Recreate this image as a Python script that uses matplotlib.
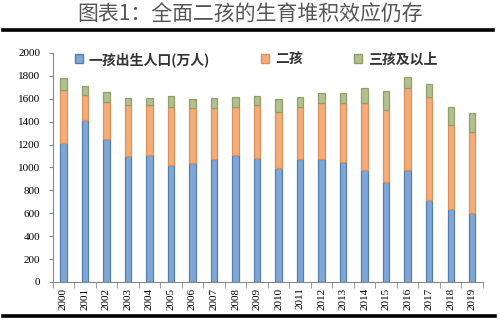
import matplotlib
matplotlib.use("Agg")
import matplotlib.pyplot as plt
from matplotlib.lines import Line2D
from matplotlib.patches import Patch

# data (births, 10k people)
years = [str(y) for y in range(2000, 2020)]
first_child = [1211, 1412, 1249, 1103, 1109, 1022, 1042, 1071, 1109, 1086,
               998, 1071, 1071, 1051, 978, 876, 978, 716, 635, 600]
second_top = [1677, 1633, 1575, 1546, 1546, 1531, 1517, 1517, 1531, 1546,
              1488, 1531, 1560, 1560, 1560, 1502, 1691, 1619, 1371, 1313]
totals = [1779, 1712, 1657, 1610, 1604, 1624, 1596, 1604, 1619, 1624,
          1598, 1613, 1648, 1654, 1691, 1665, 1793, 1729, 1531, 1473]

second_child = [b - a for a, b in zip(first_child, second_top)]
third_plus = [c - b for b, c in zip(second_top, totals)]

series_names = ["一孩出生人口(万人)", "二孩", "三孩及以上"]
face_colors = ["#7fa6d4", "#f3ad78", "#b3c08e"]
edge_colors = ["#557fae", "#dc915b", "#909f6e"]

cjk = ["Noto Sans CJK SC", "DejaVu Sans"]

fig = plt.figure(figsize=(5.0, 3.21), dpi=100)
ax = fig.add_axes([0.1054, 0.1215, 0.8606, 0.7135])

x = range(len(years))
bottom = [0] * len(years)
for vals, name, fc, ec in zip([first_child, second_child, third_plus],
                              series_names, face_colors, edge_colors):
    ax.bar(x, vals, bottom=bottom, width=0.3, color=fc, edgecolor=ec,
           linewidth=0.9, label=name)
    bottom = [b + v for b, v in zip(bottom, vals)]

ax.set_xlim(-0.5, len(years) - 0.5)
ax.set_ylim(0, 2000)
ax.set_yticks(range(0, 2001, 200))
ax.set_yticklabels([str(v) for v in range(0, 2001, 200)],
                   family="Liberation Serif", fontsize=8)
ax.set_xticks(list(x))
ax.set_xticklabels(years, rotation=90, family="Liberation Serif", fontsize=8)
ax.set_xticks([i - 0.5 for i in range(len(years) + 1)], minor=True)
ax.tick_params(axis="x", which="major", length=0, pad=4)
ax.tick_params(axis="x", which="minor", length=4, color="#888888")
ax.tick_params(axis="y", length=3, color="#888888", pad=6)
for side in ["top", "right"]:
    ax.spines[side].set_visible(False)
for side in ["left", "bottom"]:
    ax.spines[side].set_color("#888888")
    ax.spines[side].set_linewidth(0.8)

handles = [Patch(facecolor=fc, edgecolor=ec) for fc, ec in zip(face_colors, edge_colors)]
leg = fig.legend(handles, series_names, loc="center", bbox_to_anchor=(0.512, 0.815),
                 ncol=3, frameon=False, handlelength=0.6, handleheight=0.6,
                 columnspacing=3.7, handletextpad=0.4,
                 prop={"family": cjk, "size": 10, "weight": "bold"})
for t in leg.get_texts():
    t.set_color("#333333")

fig.text(0.5, 0.955, "图表1：全面二孩的生育堆积效应仍存", ha="center", va="center",
         fontsize=15, color="#555555", family=cjk)

# thick rules above and below the chart
fig.add_artist(Line2D([0.006, 0.986], [0.905, 0.905], color="black", linewidth=2.6))
fig.add_artist(Line2D([0.006, 0.99], [0.016, 0.016], color="black", linewidth=2.6))

fig.savefig("out.png", dpi=100)
